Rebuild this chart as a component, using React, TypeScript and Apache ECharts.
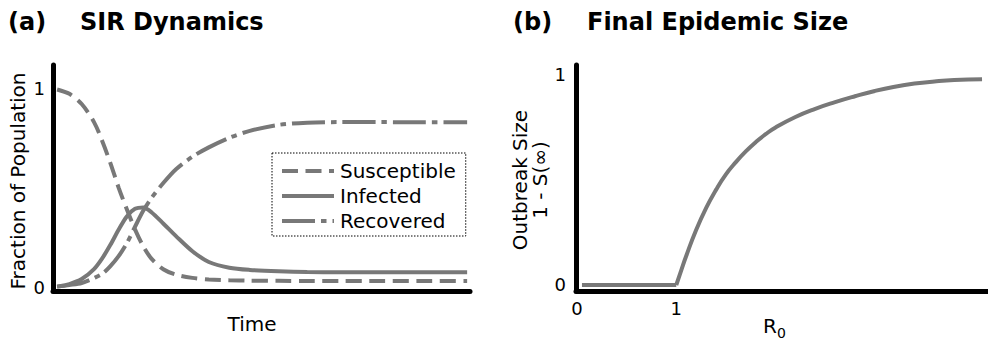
import React, { useEffect, useRef } from "react";
import * as echarts from "echarts";

// Panel (a): SIR compartments over time
const timePoints = [1, 4, 7, 10, 12, 14, 16, 18, 20, 22, 24, 27, 30, 34, 38, 43, 48, 55, 62, 70, 80, 90, 101];
const susceptible = [0.993, 0.971, 0.92, 0.829, 0.734, 0.623, 0.5, 0.391, 0.29, 0.205, 0.143, 0.088, 0.062, 0.046, 0.038, 0.034, 0.032, 0.031, 0.03, 0.03, 0.03, 0.03, 0.03];
const infected = [0.002, 0.015, 0.04, 0.09, 0.144, 0.212, 0.288, 0.355, 0.393, 0.4, 0.376, 0.317, 0.256, 0.18, 0.126, 0.097, 0.086, 0.079, 0.075, 0.074, 0.074, 0.074, 0.074];
const recovered = [0.002, 0.01, 0.02, 0.045, 0.066, 0.105, 0.155, 0.22, 0.303, 0.383, 0.447, 0.525, 0.592, 0.655, 0.702, 0.75, 0.785, 0.815, 0.826, 0.829, 0.829, 0.828, 0.828];
const seriesNames = ["Susceptible", "Infected", "Recovered"];

// Panel (b): final outbreak size against R0
const r0Values = [0.05, 1.0, 1.05, 1.1, 1.2, 1.3, 1.4, 1.5, 1.6, 1.7, 1.8, 1.9, 2.0, 2.2, 2.4, 2.6, 2.8, 3.0, 3.2, 3.4, 3.6, 3.8, 4.08];
const outbreakSizes = [0, 0, 0.07, 0.138, 0.262, 0.366, 0.453, 0.527, 0.585, 0.636, 0.68, 0.718, 0.75, 0.8, 0.839, 0.871, 0.899, 0.924, 0.944, 0.959, 0.969, 0.976, 0.98];
const yTickValues = [0, 1];
const r0TickValues = [0, 1];

const GRAY = "#787878";
const FONT = "DejaVu Sans";

const pairs = (xs: number[], ys: number[]) => xs.map((x, i) => [x, ys[i]]);

const axisLine = { onZero: false, lineStyle: { color: "#000", width: 5 } };
const titleStyle = { fontSize: 24, fontWeight: "bold", color: "#000", fontFamily: FONT };

export default function App() {
  const ref = useRef<HTMLDivElement>(null);

  useEffect(() => {
    if (!ref.current) return;
    const chart = echarts.init(ref.current, undefined, { renderer: "svg" });

    const lineSeries = (name: string, values: number[], type: any) => ({
      name,
      type: "line",
      xAxisIndex: 0,
      yAxisIndex: 0,
      data: pairs(timePoints, values),
      smooth: 0.3,
      symbol: "none",
      lineStyle: { color: GRAY, width: 4, type, cap: "butt" },
      itemStyle: { color: GRAY },
    });

    const flatEnd = 2;

    chart.setOption({
      animation: false,
      textStyle: { fontFamily: FONT },
      title: [
        { text: "(a)", left: 8, top: 10, padding: 0, textStyle: titleStyle },
        { text: "SIR Dynamics", left: 80, top: 10, padding: 0, textStyle: titleStyle },
        { text: "(b)", left: 513, top: 10, padding: 0, textStyle: titleStyle },
        { text: "Final Epidemic Size", left: 587, top: 10, padding: 0, textStyle: titleStyle },
      ],
      grid: [
        { left: 53, top: 65, width: 417, height: 226 },
        { left: 576, top: 65, width: 412, height: 226 },
      ],
      xAxis: [
        {
          gridIndex: 0, type: "value", min: 0, max: 101.7,
          axisLine, axisTick: { show: false }, axisLabel: { show: false }, splitLine: { show: false },
        },
        {
          gridIndex: 1, type: "value", min: -0.01, max: 4.14,
          axisLine, axisTick: { show: false }, splitLine: { show: false },
          axisLabel: { customValues: r0TickValues, margin: 8, fontSize: 18, color: "#000", fontFamily: FONT },
        },
      ],
      yAxis: [
        {
          gridIndex: 0, type: "value", min: -0.02, max: 1.116,
          axisLine, axisTick: { show: false }, splitLine: { show: false },
          axisLabel: { customValues: yTickValues, margin: 8, fontSize: 18, color: "#000", fontFamily: FONT },
        },
        {
          gridIndex: 1, type: "value", min: -0.0286, max: 1.0476,
          axisLine, axisTick: { show: false }, splitLine: { show: false },
          axisLabel: { customValues: yTickValues, margin: 10, fontSize: 18, color: "#000", fontFamily: FONT },
        },
      ],
      legend: {
        orient: "vertical",
        left: 272,
        top: 153,
        data: seriesNames,
        itemWidth: 52,
        itemHeight: 14,
        itemGap: 5,
        padding: [8, 10, 5, 8],
        borderColor: "#000",
        borderWidth: 1,
        borderType: [1.5, 1.5],
        backgroundColor: "#fff",
        itemStyle: { opacity: 0, color: "transparent", borderWidth: 0 },
        lineStyle: { width: 4 },
        textStyle: { fontSize: 20, color: "#000", fontFamily: FONT, padding: [0, 0, 0, 1] },
      },
      series: [
        lineSeries(seriesNames[0], susceptible, [16, 7.5]),
        lineSeries(seriesNames[1], infected, "solid"),
        lineSeries(seriesNames[2], recovered, [33, 6, 5.5, 6]),
        {
          name: "Below threshold",
          type: "line",
          xAxisIndex: 1,
          yAxisIndex: 1,
          data: pairs(r0Values.slice(0, flatEnd), outbreakSizes.slice(0, flatEnd)),
          symbol: "none",
          lineStyle: { color: GRAY, width: 4 },
        },
        {
          name: "Above threshold",
          type: "line",
          xAxisIndex: 1,
          yAxisIndex: 1,
          data: pairs(r0Values.slice(flatEnd - 1), outbreakSizes.slice(flatEnd - 1)),
          smooth: 0.5,
          symbol: "none",
          lineStyle: { color: GRAY, width: 4 },
        },
      ],
      graphic: [
        {
          type: "text", x: 18, y: 181, rotation: Math.PI / 2,
          style: { text: "Fraction of Population", fontSize: 20, fontFamily: FONT, fill: "#000", align: "center", verticalAlign: "middle" },
        },
        {
          type: "text", x: 252, y: 324,
          style: { text: "Time", fontSize: 20, fontFamily: FONT, fill: "#000", align: "center", verticalAlign: "middle" },
        },
        {
          type: "text", x: 520, y: 180, rotation: Math.PI / 2,
          style: { text: "Outbreak Size", fontSize: 20, fontFamily: FONT, fill: "#000", align: "center", verticalAlign: "middle" },
        },
        {
          type: "text", x: 540, y: 180, rotation: Math.PI / 2,
          style: { text: "1 - S(\u221e)", fontSize: 20, fontFamily: FONT, fill: "#000", align: "center", verticalAlign: "middle" },
        },
        {
          type: "text", x: 763, y: 326,
          style: { text: "R", fontSize: 20, fontFamily: FONT, fill: "#000", align: "left", verticalAlign: "middle" },
        },
        {
          type: "text", x: 777, y: 333,
          style: { text: "0", fontSize: 14, fontFamily: FONT, fill: "#000", align: "left", verticalAlign: "middle" },
        },
      ],
    });

    return () => chart.dispose();
  }, []);

  return <div ref={ref} style={{ position: "absolute", left: 0, top: 0, width: 988, height: 341 }} />;
}
